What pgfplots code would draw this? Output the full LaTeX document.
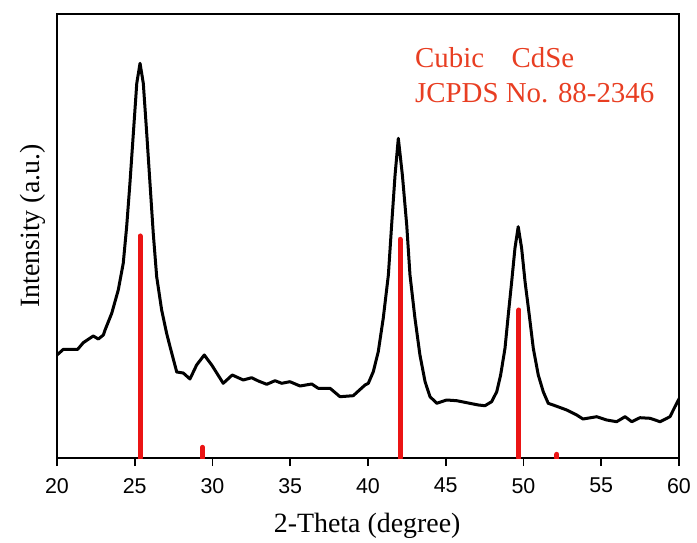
\documentclass[border=0pt]{standalone}
\usepackage{pgfplots}
\pgfplotsset{compat=1.18}
\usepackage{fontspec}
\setmainfont{Liberation Serif}
\newfontfamily\arialfont{Liberation Sans}
\definecolor{barred}{RGB}{235,20,20}
\definecolor{txtred}{RGB}{232,62,34}

\begin{document}
\begin{tikzpicture}
\begin{axis}[
  at={(0,0)}, anchor=south west,
  scale only axis, width=622bp, height=444bp,
  xmin=20, xmax=60, ymin=0, ymax=444,
  axis line style={line width=1.8bp},
  xtick={20,25,...,60}, ytick=\empty,
  xtick pos=bottom, tick align=outside,
  major tick length=8bp,
  every tick/.style={black, line width=1.8bp},
  /pgf/number format/assume math mode=true,
  xticklabel style={font=\arialfont\fontsize{21.5}{21.5}\selectfont, inner sep=0pt, anchor=north, yshift=-12bp},
  xlabel={2-Theta (degree)}, ylabel={Intensity (a.u.)},
  label style={font=\fontsize{28}{28}\selectfont, inner sep=0pt},
  xlabel style={at={(axis description cs:0.4986,-0.1689)}, anchor=base},
  ylabel style={at={(axis description cs:-0.0177,0.5225)}, anchor=south},
]
% measured pattern
\addplot[black, line width=3bp, line join=round] coordinates {
(20.00,103) (20.41,108.7) (21.33,108.7) (21.69,115.3) (22.33,122) (22.66,119)
(22.98,123) (23.09,128) (23.52,144.7) (23.94,168) (24.26,194.7) (24.48,231.3)
(24.69,274.7) (24.91,324.7) (25.13,374.7) (25.34,394.7) (25.55,374.7)
(25.77,324.7) (25.98,274.7) (26.19,224.7) (26.41,181.3) (26.73,148)
(27.05,124.7) (27.27,111.3) (27.70,86) (28.12,85) (28.55,79) (28.98,93)
(29.47,103) (29.95,93) (30.69,74.7) (31.27,83) (31.98,78) (32.52,80.3)
(32.95,77) (33.49,73.7) (34.02,77.3) (34.45,74.7) (34.98,76.3) (35.63,72)
(36.38,74) (36.80,69.7) (37.56,69.7) (38.20,61.3) (39.05,62.3) (39.81,73)
(40.02,74.7) (40.34,86.3) (40.66,106.3) (40.98,139.7) (41.31,183)
(41.52,233) (41.74,283) (41.95,319.7) (42.21,283) (42.49,233) (42.70,183)
(43.02,139.7) (43.34,103) (43.67,76.3) (43.99,61.3) (44.42,54.7)
(45.06,58) (45.70,57.3) (46.45,55) (47.10,53) (47.52,52.3) (47.95,56.3)
(48.28,66.3) (48.53,83) (48.81,109.7) (49.02,143) (49.24,176.3)
(49.45,209.7) (49.66,231.3) (49.88,209.7) (50.10,176.3) (50.37,143)
(50.63,109.7) (50.95,83) (51.27,66.3) (51.59,54.7) (52.03,52.3)
(52.78,48) (53.42,43) (53.83,39) (54.71,41.3) (55.35,38) (55.99,36.3)
(56.53,41.3) (56.96,36.3) (57.49,40.3) (58.14,39.7) (58.78,36.3)
(59.42,41.3) (59.74,51.3) (60.02,59.7)
};
% JCPDS 88-2346 reference lines
\addplot[ycomb, barred, line width=5bp, line cap=round, mark=none] coordinates {
(25.34,222) (29.35,10.7) (42.06,218.7) (49.71,148) (52.15,3.7)
};
\node[anchor=base west, inner sep=0pt, text=txtred, font=\fontsize{29}{29}\selectfont]
  at (axis cs:43.02,390) {Cubic\hspace{0.95em}CdSe};
\node[anchor=base west, inner sep=0pt, text=txtred, font=\fontsize{29}{29}\selectfont]
  at (axis cs:43.02,355) {JCPDS No. 88-2346};
\end{axis}
\pgfresetboundingbox
\path[use as bounding box] (-57bp,-85bp) rectangle (640bp,458bp);
\end{tikzpicture}
\end{document}
